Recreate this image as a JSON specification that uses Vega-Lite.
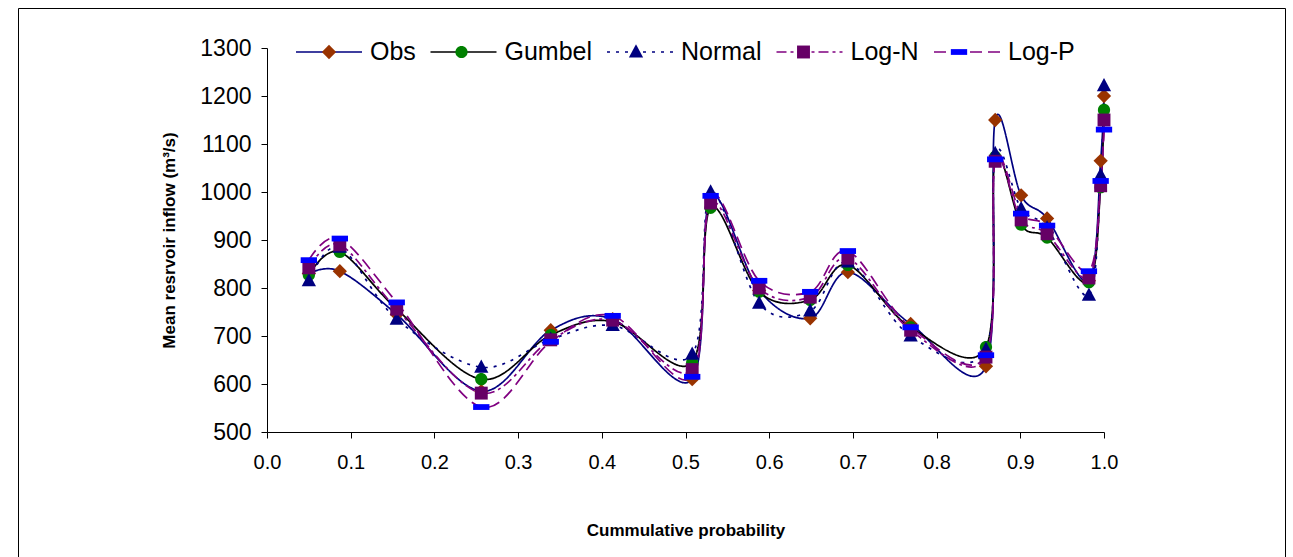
{
  "$schema": "https://vega.github.io/schema/vega-lite/v6.json",
  "width": 1267,
  "height": 560,
  "autosize": {"type": "none"},
  "padding": {"left": 18, "top": 8, "right": 8, "bottom": 0},
  "background": "white",
  "config": {
    "view": {"stroke": "#000000", "strokeWidth": 1},
    "font": "Liberation Sans",
    "axis": {
      "domainColor": "#000000",
      "tickColor": "#000000",
      "labelColor": "#000000",
      "titleColor": "#000000",
      "grid": false,
      "labelFont": "Liberation Sans",
      "titleFont": "Liberation Sans",
      "domainWidth": 1,
      "tickWidth": 1
    }
  },
  "data": {
    "values": [
      {"p": 0.050, "series": "Obs", "k": 1, "v": 830}, {"p": 0.050, "series": "Gumbel", "k": 2, "v": 827}, {"p": 0.050, "series": "Normal", "k": 3, "v": 815}, {"p": 0.050, "series": "Log-N", "k": 4, "v": 842}, {"p": 0.050, "series": "Log-P", "k": 5, "v": 858},
      {"p": 0.087, "series": "Obs", "k": 1, "v": 835}, {"p": 0.087, "series": "Gumbel", "k": 2, "v": 875}, {"p": 0.087, "series": "Normal", "k": 3, "v": 885}, {"p": 0.087, "series": "Log-N", "k": 4, "v": 890}, {"p": 0.087, "series": "Log-P", "k": 5, "v": 903},
      {"p": 0.155, "series": "Obs", "k": 1, "v": 745}, {"p": 0.155, "series": "Gumbel", "k": 2, "v": 756}, {"p": 0.155, "series": "Normal", "k": 3, "v": 735}, {"p": 0.155, "series": "Log-N", "k": 4, "v": 756}, {"p": 0.155, "series": "Log-P", "k": 5, "v": 770},
      {"p": 0.256, "series": "Obs", "k": 1, "v": 585}, {"p": 0.256, "series": "Gumbel", "k": 2, "v": 610}, {"p": 0.256, "series": "Normal", "k": 3, "v": 635}, {"p": 0.256, "series": "Log-N", "k": 4, "v": 581}, {"p": 0.256, "series": "Log-P", "k": 5, "v": 552},
      {"p": 0.339, "series": "Obs", "k": 1, "v": 712}, {"p": 0.339, "series": "Gumbel", "k": 2, "v": 702}, {"p": 0.339, "series": "Normal", "k": 3, "v": 693}, {"p": 0.339, "series": "Log-N", "k": 4, "v": 692}, {"p": 0.339, "series": "Log-P", "k": 5, "v": 688},
      {"p": 0.413, "series": "Obs", "k": 1, "v": 735}, {"p": 0.413, "series": "Gumbel", "k": 2, "v": 730}, {"p": 0.413, "series": "Normal", "k": 3, "v": 722}, {"p": 0.413, "series": "Log-N", "k": 4, "v": 733}, {"p": 0.413, "series": "Log-P", "k": 5, "v": 742},
      {"p": 0.508, "series": "Obs", "k": 1, "v": 610}, {"p": 0.508, "series": "Gumbel", "k": 2, "v": 645}, {"p": 0.508, "series": "Normal", "k": 3, "v": 662}, {"p": 0.508, "series": "Log-N", "k": 4, "v": 630}, {"p": 0.508, "series": "Log-P", "k": 5, "v": 615},
      {"p": 0.530, "series": "Obs", "k": 1, "v": 990}, {"p": 0.530, "series": "Gumbel", "k": 2, "v": 967}, {"p": 0.530, "series": "Normal", "k": 3, "v": 1000}, {"p": 0.530, "series": "Log-N", "k": 4, "v": 977}, {"p": 0.530, "series": "Log-P", "k": 5, "v": 992},
      {"p": 0.588, "series": "Obs", "k": 1, "v": 795}, {"p": 0.588, "series": "Gumbel", "k": 2, "v": 792}, {"p": 0.588, "series": "Normal", "k": 3, "v": 768}, {"p": 0.588, "series": "Log-N", "k": 4, "v": 800}, {"p": 0.588, "series": "Log-P", "k": 5, "v": 815},
      {"p": 0.649, "series": "Obs", "k": 1, "v": 737}, {"p": 0.649, "series": "Gumbel", "k": 2, "v": 775}, {"p": 0.649, "series": "Normal", "k": 3, "v": 752}, {"p": 0.649, "series": "Log-N", "k": 4, "v": 781}, {"p": 0.649, "series": "Log-P", "k": 5, "v": 792},
      {"p": 0.694, "series": "Obs", "k": 1, "v": 833}, {"p": 0.694, "series": "Gumbel", "k": 2, "v": 848}, {"p": 0.694, "series": "Normal", "k": 3, "v": 854}, {"p": 0.694, "series": "Log-N", "k": 4, "v": 862}, {"p": 0.694, "series": "Log-P", "k": 5, "v": 877},
      {"p": 0.769, "series": "Obs", "k": 1, "v": 725}, {"p": 0.769, "series": "Gumbel", "k": 2, "v": 718}, {"p": 0.769, "series": "Normal", "k": 3, "v": 700}, {"p": 0.769, "series": "Log-N", "k": 4, "v": 712}, {"p": 0.769, "series": "Log-P", "k": 5, "v": 718},
      {"p": 0.859, "series": "Obs", "k": 1, "v": 637}, {"p": 0.859, "series": "Gumbel", "k": 2, "v": 677}, {"p": 0.859, "series": "Normal", "k": 3, "v": 672}, {"p": 0.859, "series": "Log-N", "k": 4, "v": 656}, {"p": 0.859, "series": "Log-P", "k": 5, "v": 660},
      {"p": 0.870, "series": "Obs", "k": 1, "v": 1150}, {"p": 0.870, "series": "Gumbel", "k": 2, "v": 1073}, {"p": 0.870, "series": "Normal", "k": 3, "v": 1080}, {"p": 0.870, "series": "Log-N", "k": 4, "v": 1064}, {"p": 0.870, "series": "Log-P", "k": 5, "v": 1068},
      {"p": 0.901, "series": "Obs", "k": 1, "v": 993}, {"p": 0.901, "series": "Gumbel", "k": 2, "v": 932}, {"p": 0.901, "series": "Normal", "k": 3, "v": 965}, {"p": 0.901, "series": "Log-N", "k": 4, "v": 942}, {"p": 0.901, "series": "Log-P", "k": 5, "v": 955},
      {"p": 0.932, "series": "Obs", "k": 1, "v": 945}, {"p": 0.932, "series": "Gumbel", "k": 2, "v": 905}, {"p": 0.932, "series": "Normal", "k": 3, "v": 925}, {"p": 0.932, "series": "Log-N", "k": 4, "v": 913}, {"p": 0.932, "series": "Log-P", "k": 5, "v": 930},
      {"p": 0.982, "series": "Obs", "k": 1, "v": 815}, {"p": 0.982, "series": "Gumbel", "k": 2, "v": 812}, {"p": 0.982, "series": "Normal", "k": 3, "v": 785}, {"p": 0.982, "series": "Log-N", "k": 4, "v": 821}, {"p": 0.982, "series": "Log-P", "k": 5, "v": 835},
      {"p": 0.996, "series": "Obs", "k": 1, "v": 1065}, {"p": 0.996, "series": "Gumbel", "k": 2, "v": 1010}, {"p": 0.996, "series": "Normal", "k": 3, "v": 1035}, {"p": 0.996, "series": "Log-N", "k": 4, "v": 1013}, {"p": 0.996, "series": "Log-P", "k": 5, "v": 1023},
      {"p": 1.000, "series": "Obs", "k": 1, "v": 1200}, {"p": 1.000, "series": "Gumbel", "k": 2, "v": 1171}, {"p": 1.000, "series": "Normal", "k": 3, "v": 1221}, {"p": 1.000, "series": "Log-N", "k": 4, "v": 1150}, {"p": 1.000, "series": "Log-P", "k": 5, "v": 1130}
    ]
  },
  "encoding": {
    "x": {
      "field": "p", "type": "quantitative",
      "scale": {"domain": [0, 1], "range": [249, 1086], "nice": false, "zero": false},
      "axis": {
        "orient": "bottom", "offset": -136,
        "values": [0, 0.1, 0.2, 0.3, 0.4, 0.5, 0.6, 0.7, 0.8, 0.9, 1.0],
        "format": ".1f", "labelFontSize": 20, "labelPadding": 14, "tickSize": 6,
        "title": "Cummulative probability", "titleFontSize": 17, "titleFontWeight": "bold",
        "titlePadding": 50, "labelFlush": false, "labelOverlap": false
      }
    },
    "y": {
      "field": "v", "type": "quantitative",
      "scale": {"domain": [500, 1300], "range": [424, 40], "nice": false, "zero": false},
      "axis": {
        "orient": "left", "offset": -249,
        "values": [500, 600, 700, 800, 900, 1000, 1100, 1200, 1300],
        "format": "d",
        "labelFontSize": 23, "labelPadding": 10, "tickSize": 6,
        "title": "Mean resrvoir inflow (m³/s)", "titleFontSize": 17, "titleFontWeight": "bold",
        "titlePadding": 21, "labelFlush": false, "labelOverlap": false
      }
    }
  },
  "layer": [
    {
      "mark": {"type": "line", "interpolate": "cardinal", "tension": 0, "strokeWidth": 1.7},
      "encoding": {
        "stroke": {
          "field": "series", "type": "nominal",
          "scale": {"domain": ["Obs", "Gumbel", "Normal", "Log-N", "Log-P"], "range": ["#000080", "#000000", "#000080", "#800080", "#800080"]},
          "legend": {
            "title": null, "orient": "none", "legendX": 277, "legendY": 10, "direction": "horizontal",
            "symbolType": "stroke", "symbolSize": 4356, "symbolStrokeWidth": 1.5,
            "labelFontSize": 25, "labelFont": "Liberation Sans", "labelColor": "#000000", "labelOffset": 7,
            "columnPadding": 11.5, "padding": 0
          }
        },
        "strokeDash": {
          "field": "series", "type": "nominal",
          "scale": {"domain": ["Obs", "Gumbel", "Normal", "Log-N", "Log-P"], "range": [[1, 0], [1, 0], [3, 6], [10, 4, 3, 4], [12, 6]]},
          "legend": {
            "title": null, "orient": "none", "legendX": 277, "legendY": 10, "direction": "horizontal",
            "symbolType": "stroke", "symbolSize": 4356, "symbolStrokeWidth": 1.5,
            "labelFontSize": 25, "labelFont": "Liberation Sans", "labelColor": "#000000", "labelOffset": 7,
            "columnPadding": 11.5, "padding": 0
          }
        }
      }
    },
    {
      "mark": {"type": "point", "filled": true, "opacity": 1, "strokeWidth": 0, "size": 4624},
      "encoding": {
        "fill": {
          "field": "series", "type": "nominal",
          "sort": {"field": "k", "op": "min"},
          "scale": {"range": ["#993300", "#008000", "#000080", "#660066", "#0000FF"]},
          "legend": {
            "title": null, "orient": "none", "legendX": 277, "legendY": 10, "direction": "horizontal",
            "symbolSize": 4624, "symbolStrokeWidth": 0,
            "labelFontSize": 25, "labelFont": "Liberation Sans", "labelColor": "rgba(0,0,0,0)", "labelOffset": 7,
            "columnPadding": 11.5, "padding": 0
          }
        },
        "shape": {
          "field": "series", "type": "nominal",
          "sort": {"field": "k", "op": "min"},
          "scale": {"range": [
            "M-1,0M1,0M0,-0.21L0.21,0L0,0.21L-0.21,0Z",
            "M-1,0M1,0M-0.18,0A0.18,0.18,0,1,0,0.18,0A0.18,0.18,0,1,0,-0.18,0Z",
            "M-1,0M1,0M0,-0.23L0.21,0.16L-0.21,0.16Z",
            "M-1,0M1,0M-0.19,-0.19L0.19,-0.19L0.19,0.19L-0.19,0.19Z",
            "M-1,0M1,0M-0.24,-0.085L0.24,-0.085L0.24,0.085L-0.24,0.085Z"
          ]},
          "legend": {
            "title": null, "orient": "none", "legendX": 277, "legendY": 10, "direction": "horizontal",
            "symbolSize": 4624, "symbolStrokeWidth": 0,
            "labelFontSize": 25, "labelFont": "Liberation Sans", "labelColor": "rgba(0,0,0,0)", "labelOffset": 7,
            "columnPadding": 11.5, "padding": 0
          }
        }
      }
    }
  ]
}
